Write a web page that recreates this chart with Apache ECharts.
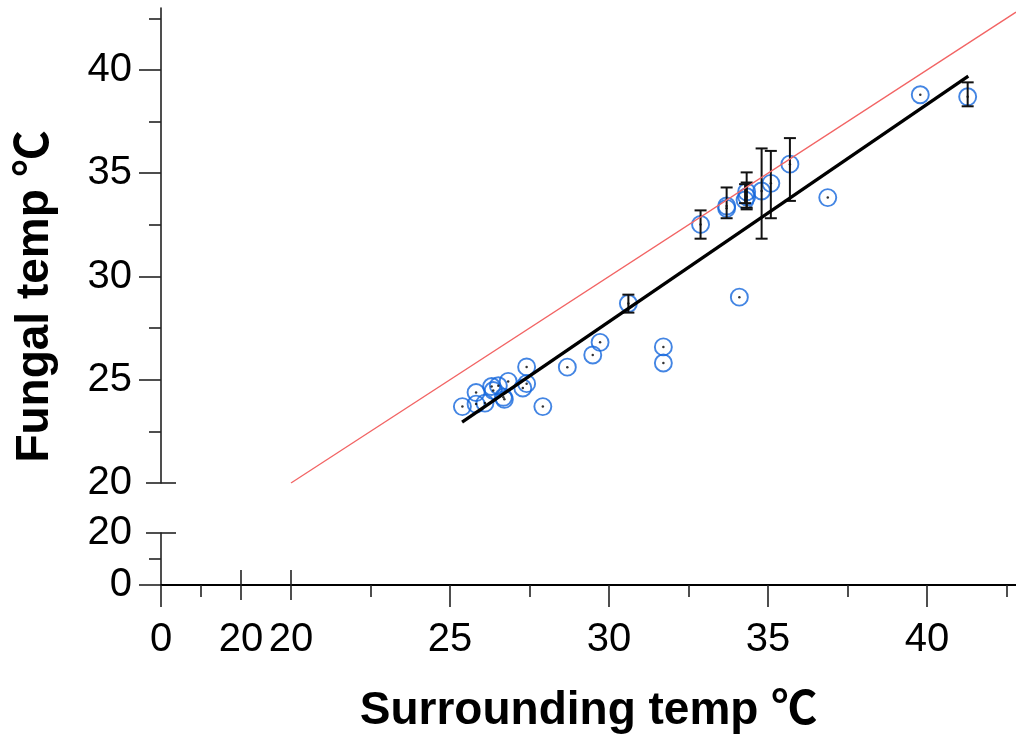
<!DOCTYPE html>
<html><head><meta charset="utf-8">
<script src="https://cdn.jsdelivr.net/npm/echarts@6/dist/echarts.min.js"></script>
<style>html,body{margin:0;padding:0;background:#fff}#c{width:1016px;height:740px}</style>
</head><body><div id="c"></div>
<script>
// ---- data ----
const surroundingTemp = [25.39, 25.82, 25.82, 26.10, 26.31, 26.36, 26.52, 26.68, 26.71, 26.83, 27.29, 27.41, 27.41, 27.92,
  28.69, 29.49, 29.72, 30.61, 31.71, 31.71, 32.88, 33.70, 33.70, 34.10, 34.33, 34.33, 34.28, 34.80, 35.09, 35.69, 36.88, 39.79, 41.28];
const fungalTemp = [23.70, 24.38, 23.82, 23.87, 24.67, 24.48, 24.71, 24.15, 24.05, 24.92, 24.60, 24.81, 25.62, 23.70,
  25.61, 26.20, 26.81, 28.69, 26.59, 25.81, 32.52, 33.41, 33.30, 29.00, 34.10, 33.86, 33.70, 34.14, 34.51, 35.44, 33.82, 38.80, 38.70];
const errLow = [null, null, null, null, null, null, null, null, null, null, null, null, null, null,
  null, null, null, 28.25, null, null, 31.83, 32.82, null, null, 33.25, 33.33, 33.55, 31.83, 32.82, 33.66, null, null, 38.24];
const errHigh = [null, null, null, null, null, null, null, null, null, null, null, null, null, null,
  null, null, null, 29.12, null, null, 33.20, 34.31, null, null, 35.04, 34.55, 34.47, 36.20, 36.08, 36.70, null, null, 39.40];
const fitX = [25.38, 41.30];
const fitY = [22.95, 39.70];
const identityX = [20, 42.8];
const identityY = [20, 42.8];
const mainXLabels = [20, 25, 30, 35, 40];
const mainXMajor = [25, 30, 35, 40];
const mainXMinor = [22.5, 27.5, 32.5, 37.5, 42.5];
const mainYLabels = [20, 25, 30, 35, 40];
const mainYMajor = [25, 30, 35, 40];
const mainYMinor = [22.5, 27.5, 32.5, 37.5, 42.5];
const lowLabels = [0, 20];
const lowMajor = [0];
const lowMinor = [10];
const breakTick = [20];
const xTitle = 'Surrounding temp ℃';
const yTitle = 'Fungal temp ℃';

// ---- chart ----
const FONT = "'Liberation Sans', Arial, 'Noto Sans CJK SC', sans-serif";
const AX = {color: '#222', width: 1.6};
const LBL = {fontSize: 40, color: '#000', fontFamily: FONT};
function baseAxis(dim, grid, min, max, extra) {
  return Object.assign({
    type: 'value', gridIndex: grid, min: min, max: max,
    position: dim === 'x' ? 'bottom' : 'left',
    axisLine: {show: false}, axisTick: {show: false}, axisLabel: {show: false}, splitLine: {show: false}
  }, extra || {});
}
function tickAxis(dim, grid, min, max, values, len, inside) {
  return baseAxis(dim, grid, min, max, {
    axisTick: {show: true, inside: inside, length: len, customValues: values, lineStyle: AX}
  });
}
function mainAxis(dim, grid, min, max, labels, major, margin) {
  return baseAxis(dim, grid, min, max, {
    axisLine: {show: true, lineStyle: AX},
    axisTick: {show: true, length: 22, customValues: major, lineStyle: AX},
    axisLabel: Object.assign({show: true, customValues: labels, margin: margin}, LBL)
  });
}
const XMAIN = [20, 42.8], YMAIN = [20, 43], LOW = [0, 20];
const TITLE = {fontSize: 46, fontWeight: 'bold', color: '#000', fontFamily: FONT};

const xAxis = [
  baseAxis('x', 0, LOW[0], LOW[1]),                                   // 0
  baseAxis('x', 1, XMAIN[0], XMAIN[1]),                               // 1 data
  mainAxis('x', 2, LOW[0], LOW[1], lowLabels, lowMajor, 35),          // 2
  tickAxis('x', 2, LOW[0], LOW[1], lowMinor, 12, false),              // 3
  tickAxis('x', 2, LOW[0], LOW[1], breakTick, 15, false),             // 4
  tickAxis('x', 2, LOW[0], LOW[1], breakTick, 15, true),              // 5
  mainAxis('x', 3, XMAIN[0], XMAIN[1], mainXLabels, mainXMajor, 35),  // 6
  tickAxis('x', 3, XMAIN[0], XMAIN[1], mainXMinor, 12, false),        // 7
  tickAxis('x', 3, XMAIN[0], XMAIN[1], breakTick, 15, false),         // 8
  tickAxis('x', 3, XMAIN[0], XMAIN[1], breakTick, 15, true),          // 9
  baseAxis('x', 4, 0, 1, {position: 'top', axisLine: {show: true, lineStyle: {color: '#000', width: 2}}}), // 10
  baseAxis('x', 4, 0, 1, {name: xTitle, nameLocation: 'middle', nameGap: 103, nameTextStyle: TITLE})  // 11
];
const yAxis = [
  mainAxis('y', 0, YMAIN[0], YMAIN[1], mainYLabels, mainYMajor, 29),  // 0
  tickAxis('y', 0, YMAIN[0], YMAIN[1], mainYMinor, 12, false),        // 1
  tickAxis('y', 0, YMAIN[0], YMAIN[1], breakTick, 15, false),         // 2
  tickAxis('y', 0, YMAIN[0], YMAIN[1], breakTick, 15, true),          // 3
  baseAxis('y', 1, YMAIN[0], YMAIN[1]),                               // 4 data
  mainAxis('y', 2, LOW[0], LOW[1], lowLabels, lowMajor, 29),          // 5
  tickAxis('y', 2, LOW[0], LOW[1], lowMinor, 12, false),              // 6
  tickAxis('y', 2, LOW[0], LOW[1], breakTick, 15, false),             // 7
  tickAxis('y', 2, LOW[0], LOW[1], breakTick, 15, true),              // 8
  baseAxis('y', 3, LOW[0], LOW[1]),                                   // 9
  baseAxis('y', 4, 0, 1, {name: yTitle, nameLocation: 'middle', nameGap: 103, nameTextStyle: TITLE})  // 10
];
const g = (o) => Object.assign({outerBoundsMode: 'none', containLabel: false, show: false}, o);
const grid = [
  g({left: 161, width: 80, top: 8, height: 475}),
  g({left: 291, right: 0, top: 8, height: 475}),
  g({left: 161, width: 80, top: 533, height: 52}),
  g({left: 291, right: 0, top: 533, height: 52}),
  g({left: 161, right: 0, top: 8, height: 577})
];

const pts = surroundingTemp.map((x, i) => [x, fungalTemp[i]]);
const errs = [];
surroundingTemp.forEach((x, i) => { if (errLow[i] != null) errs.push([x, errLow[i], errHigh[i]]); });

const series = [
  {type: 'scatter', xAxisIndex: 1, yAxisIndex: 4, data: pts, symbol: 'circle', symbolSize: 17, z: 2,
    itemStyle: {color: 'rgba(0,0,0,0)', borderColor: '#1466dc', borderWidth: 1.9}, silent: true},
  {type: 'scatter', xAxisIndex: 1, yAxisIndex: 4, data: pts, symbol: 'circle', symbolSize: 2.5, z: 3,
    itemStyle: {color: '#000'}, silent: true},
  {type: 'custom', xAxisIndex: 1, yAxisIndex: 4, data: errs, z: 4, encode: {x: 0, y: [1, 2]},
    renderItem: function (params, api) {
      const x = api.value(0);
      const p1 = api.coord([x, api.value(2)]), p2 = api.coord([x, api.value(1)]);
      const w = 6, st = {stroke: '#111', lineWidth: 2};
      return {type: 'group', children: [
        {type: 'line', shape: {x1: p1[0], y1: p1[1], x2: p2[0], y2: p2[1]}, style: st},
        {type: 'line', shape: {x1: p1[0] - w, y1: p1[1], x2: p1[0] + w, y2: p1[1]}, style: st},
        {type: 'line', shape: {x1: p2[0] - w, y1: p2[1], x2: p2[0] + w, y2: p2[1]}, style: st}
      ]};
    }},
  {type: 'line', xAxisIndex: 1, yAxisIndex: 4, data: identityX.map((x, i) => [x, identityY[i]]), symbol: 'none', z: 5,
    lineStyle: {color: '#f26464', width: 1.3}, silent: true},
  {type: 'line', xAxisIndex: 1, yAxisIndex: 4, data: fitX.map((x, i) => [x, fitY[i]]), symbol: 'none', z: 6,
    lineStyle: {color: '#000', width: 3.3}, silent: true}
];

const chart = echarts.init(document.getElementById('c'), null, {renderer: 'canvas'});
chart.setOption({animation: false, backgroundColor: '#fff', grid, xAxis, yAxis, series});
</script></body></html>
